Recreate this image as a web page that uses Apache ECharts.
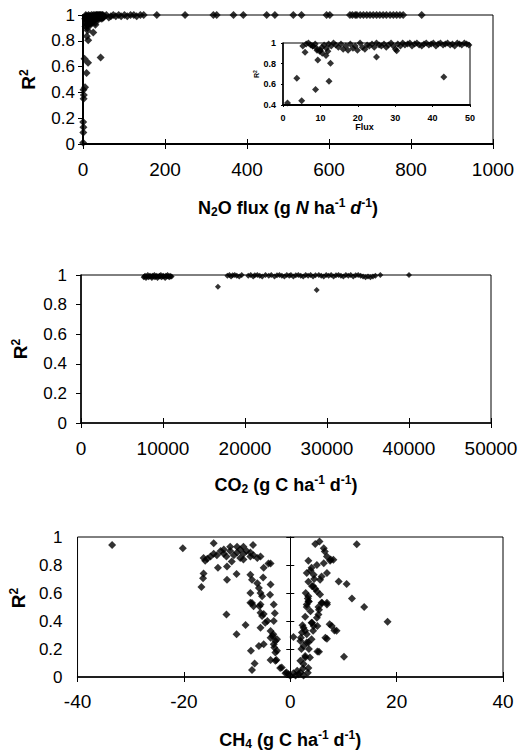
<!DOCTYPE html>
<html><head><meta charset="utf-8">
<script src="https://cdn.jsdelivr.net/npm/echarts@6/dist/echarts.min.js"></script>
<style>html,body{margin:0;padding:0;background:#fff}#c{width:522px;height:751px}</style>
</head><body><div id="c"></div>
<script>
// ---------- tick values ----------
const n2oXTicks = [0, 200, 400, 600, 800, 1000];
const insetXTicks = [0, 10, 20, 30, 40, 50];
const insetYTicks = [0.4, 0.6, 0.8, 1];
const co2XTicks = [0, 10000, 20000, 30000, 40000, 50000];
const ch4XTicks = [-40, -20, 0, 20, 40];
const r2Ticks = [0, 0.2, 0.4, 0.6, 0.8, 1];

// ---------- N2O ----------
const n2oFlux = [
  0.3, 0.8, 1.0, 0.5, 1.5, 2.0, 1.2, 5.0, 8.7, 12.3, 3.7, 43, 9.3, 12.7, 25, 5.9, 10.5, 11.5, 12, 10, 9, 30.4, 7.9,
  5.3, 6.2, 6.8, 7.4, 8.0, 8.6, 9.1, 9.8, 10.4, 11.0, 11.6, 12.2, 12.9, 13.5, 14.1, 14.8, 15.5, 16.1, 16.8, 17.4,
  18.0, 18.7, 19.3, 19.9, 20.6, 21.2, 21.9, 22.5, 23.1, 23.8, 24.4, 25.0, 25.7, 26.3, 27.0, 27.6, 28.2, 28.9, 29.5,
  30.1, 30.7, 31.4, 32.0, 32.6, 33.3, 33.9, 34.5, 35.2, 35.8, 36.4, 37.1, 37.7, 38.3, 39.0, 39.6, 40.2, 40.9, 41.5,
  42.1, 42.8, 43.4, 44.0, 44.7, 45.3, 45.9, 46.6, 47.2, 47.8, 48.5, 49.1, 49.7,
  52, 57, 63, 68, 74, 80, 87, 93, 101, 108, 116, 124, 131, 140, 148,
  180, 249, 318, 326, 367, 391, 448, 468, 513, 533, 594, 602, 651, 657, 664, 668, 676, 684, 692, 700, 708, 716,
  724, 732, 740, 749, 757, 765, 773, 781, 826
];
const n2oR2 = [
  0.01, 0.09, 0.13, 0.17, 0.35, 0.38, 0.42, 0.44, 0.55, 0.63, 0.66, 0.67, 0.835, 0.805, 0.865, 0.91, 0.9, 0.88, 0.92, 0.93, 0.95, 0.925, 0.97,
  0.97, 0.99, 1.0, 0.98, 0.97, 0.99, 0.93, 0.92, 0.96, 0.98, 0.95, 0.99, 0.97, 1.0, 0.98, 0.96, 0.99, 0.94, 0.97, 0.93,
  0.99, 0.95, 0.97, 0.93, 1.0, 0.96, 0.94, 0.98, 0.97, 0.99, 0.96, 1.0, 0.98, 0.97, 0.99, 0.96, 0.98, 1.0, 0.97,
  0.94, 0.99, 0.97, 1.0, 0.98, 0.99, 1.0, 0.97, 0.99, 1.0, 0.98, 0.97, 0.99, 1.0, 0.98, 0.99, 1.0, 0.97, 0.99,
  1.0, 0.98, 0.99, 1.0, 0.98, 0.99, 0.97, 1.0, 0.99, 0.98, 1.0, 0.99, 0.98,
  0.99, 1.0, 0.98, 0.99, 1.0, 0.99, 1.0, 0.99, 1.0, 0.99, 1.0, 1.0, 0.99, 1.0, 1.0,
  1.0, 1.0, 1.0, 1.0, 1.0, 1.0, 1.0, 1.0, 1.0, 1.0, 1.0, 1.0, 1.0, 1.0, 1.0, 1.0, 1.0, 1.0, 1.0, 1.0, 1.0, 1.0,
  1.0, 1.0, 1.0, 1.0, 1.0, 1.0, 1.0, 1.0, 1.0
];

// ---------- CO2 ----------
const co2Flux = [
  7650, 7720, 7810, 7930, 8010, 8150, 8230, 8360, 8420, 8550, 8640, 8710, 8830, 8950, 9020, 9110, 9240, 9330,
  9410, 9560, 9620, 9740, 9810, 9950, 10030, 10120, 10260, 10340, 10480, 10560, 10650, 10770, 10860, 10940, 11050,
  16700,
  17850, 18100, 18300, 18500, 18750, 19000, 19300, 19600, 20400, 20700, 21000, 21200, 21500, 21800, 22100, 22500,
  22900, 23200, 23600, 23900, 24200, 24500, 24800, 25100, 25400, 25600, 25900, 26200, 26500, 26800, 27100, 27400,
  27700, 28000, 28300, 28600, 28740, 29000, 29300, 29600, 29900, 30200, 30500, 30800, 31100, 31400, 31700, 32000,
  32300, 32600, 32900, 33200, 33500, 33800, 34100, 34400, 34700, 35000, 35300, 35600, 35900, 36500, 40000
];
const co2R2 = [
  0.985, 0.99, 0.995, 0.98, 0.99, 1.0, 0.985, 0.99, 0.995, 0.99, 0.98, 0.995, 0.99, 1.0, 0.985, 0.99, 0.995, 0.98,
  0.99, 0.995, 0.99, 1.0, 0.985, 0.99, 0.995, 0.99, 0.98, 0.995, 0.99, 1.0, 0.99, 0.985, 0.995, 0.99, 0.99,
  0.921,
  0.995, 1.0, 0.99, 0.998, 1.0, 0.995, 0.99, 1.0, 0.995, 1.0, 0.99, 0.998, 1.0, 0.995, 0.99, 1.0,
  0.995, 1.0, 0.99, 0.998, 1.0, 0.995, 0.99, 1.0, 0.995, 1.0, 0.99, 0.998, 1.0, 0.995, 0.99, 1.0,
  0.995, 1.0, 0.99, 0.998, 0.899, 1.0, 0.995, 0.99, 1.0, 0.995, 1.0, 0.99, 0.998, 1.0, 0.995, 0.99,
  1.0, 0.995, 1.0, 0.99, 0.998, 1.0, 0.995, 0.99, 0.985, 0.99, 0.985, 0.99, 0.995, 1.0, 1.0
];

// ---------- CH4 ----------
const ch4Flux = [
  -33.5, -20.2, -14.4, -7.0,
  -16.3, -15.0, -13.8, -12.5, -12.5, -11.3, -11.3, -10.0, -10.0, -9.4, -8.8, -8.8, -8.2, -7.5, -7.5, -6.9, -14.4,
  -13.1, -12.0, -10.6, -9.4, -8.8, -6.2, -5.6, -15.6, -16.0,
  -5.0, -4.1, -3.7, -13.6, -11.9, -11.0, -10.1, -11.9, -7.5, -7.2, -5.1, -6.2, -3.7, -16.3, -16.4, -16.7, -5.9,
  -5.6, -3.8, -7.5, -5.3, -7.5, -6.9, -3.1, -5.6, -5.6, -5.3, -12.0, -4.3, -3.1, -8.4, -5.6, -3.7, -3.2, -10.1,
  -3.7, -2.5, -5.0, -5.9, -3.1, -3.0, -2.5, -7.4, -3.7, -2.6, -6.7, -7.2, -1.9, -0.9,
  -7.2, -4.7, -5.0, -2.9, -5.8, -3.3, -2.8, -2.8, -2.8, -1.6, -0.7, 0, -0.3,
  5.5, 12.5, 6.3, 6.5, 6.9, 8.1, 7.6, 6.3, 3.4, 3.1, 4.4, 5.9, 6.9, 9.1, 10.6, 5.6, 4.1, 4.7, 5.0, 5.6, 5.9, 6.9,
  3.4, 3.1, 3.4, 3.1, 11.6, 13.9, 5.3, 5.0, 4.1, 18.3, 7.4, 8.3, 4.4, 2.5, 2.2, 3.1, 0.6, 6.6, 1.9, 2.5, 3.4, 5.1,
  10.1, 2.8, 1.9, 3.4, 2.5, 1.3, 0.6, 1.9, 2.3, 3.1, 4.0, 4.3, 4.0, 5.1, 5.4, 3.5, 6.0, 6.9, 7.8, 8.7, 6.9, 5.4,
  4.7, 7.5, 5.0, 4.0, 3.8, 4.5, 3.4, 2.9, 3.3, 4.3, 5.3, 3.8, 2.8, 2.8, 2.0, 3.5, 2.1, 2.8, 3.7, 2.4, 3.3, 1.0,
  2.5, 1.6
];
const ch4R2 = [
  0.943, 0.92, 0.955, 0.943,
  0.85, 0.86, 0.87, 0.88, 0.91, 0.90, 0.93, 0.93, 0.89, 0.91, 0.93, 0.88, 0.9, 0.86, 0.89, 0.87, 0.88,
  0.9, 0.86, 0.87, 0.85, 0.84, 0.85, 0.86, 0.845, 0.83,
  0.78, 0.81, 0.81, 0.78, 0.79, 0.825, 0.735, 0.695, 0.73, 0.695, 0.71, 0.67, 0.66, 0.74, 0.706, 0.643, 0.636,
  0.60, 0.588, 0.60, 0.577, 0.53, 0.506, 0.518, 0.518, 0.459, 0.435, 0.447, 0.40, 0.40, 0.371, 0.352, 0.329, 0.305, 0.305,
  0.281, 0.269, 0.234, 0.222, 0.234, 0.21, 0.187, 0.187, 0.121, 0.121, 0.097, 0.05, 0.064, 0.026,
  0.529, 0.388, 0.45, 0.455, 0.505, 0.293, 0.258, 0.175, 0.116, 0.068, 0.032, 0.009, 0.02,
  0.967, 0.948, 0.92, 0.897, 0.86, 0.837, 0.84, 0.813, 0.83, 0.742, 0.73, 0.718, 0.742, 0.683, 0.664, 0.695, 0.648, 0.63, 0.612, 0.589, 0.53, 0.53,
  0.577, 0.518, 0.541, 0.5, 0.56, 0.5, 0.447, 0.423, 0.388, 0.395, 0.376, 0.333, 0.364, 0.352, 0.317, 0.305, 0.286, 0.281, 0.258, 0.222, 0.246, 0.182,
  0.144, 0.139, 0.116, 0.064, 0.092, 0.045, 0.026, 0.033, 0.369, 0.246, 0.27, 0.33, 0.388, 0.364, 0.48, 0.54, 0.529, 0.517, 0.364, 0.33, 0.274, 0.18,
  0.95, 0.83, 0.80, 0.78, 0.76, 0.70, 0.68, 0.6, 0.56, 0.65, 0.5, 0.47, 0.43, 0.33, 0.28, 0.2, 0.2, 0.15, 0.14, 0.06, 0.03, 0.01,
  0.01, 0.02
];

// ---------- helpers ----------
const FONT = '"Liberation Sans", Arial, sans-serif';
function zip(xs, ys) { return xs.map((x, i) => [x, ys[i]]); }
function rng(t) { return { min: t[0], max: t[t.length - 1], interval: t[1] - t[0] }; }
function fmt(v) { return String(Math.round(v * 1000) / 1000); }
function richTitle(size) {
  return {
    b: { fontSize: size, fontWeight: 'bold', fontFamily: FONT, color: '#000', lineHeight: 21 },
    i: { fontSize: size, fontWeight: 'bold', fontStyle: 'italic', fontFamily: FONT, color: '#000', lineHeight: 21 },
    sub: { fontSize: Math.round(size * 0.65), fontWeight: 'bold', fontFamily: FONT, color: '#000', verticalAlign: 'bottom', lineHeight: 12 },
    sup: { fontSize: Math.round(size * 0.65), fontWeight: 'bold', fontFamily: FONT, color: '#000', verticalAlign: 'top', lineHeight: 12 }
  };
}
const black = '#000';
const noLine = { show: false };
function xLab(size, margin) { return { fontSize: size, color: black, fontFamily: FONT, margin: margin, formatter: fmt }; }
function yLab(size, margin) { return { fontSize: size, color: black, fontFamily: FONT, margin: margin, formatter: fmt }; }

const n2oData = zip(n2oFlux, n2oR2);
const insetData = n2oData.filter(p => p[0] <= insetXTicks[insetXTicks.length - 1] && p[1] >= insetYTicks[0]);

const option = {
  animation: false,
  backgroundColor: '#fff',
  grid: [
    { left: 83, top: 15, width: 410, height: 129, show: true, borderColor: black, borderWidth: 1 },
    { left: 283, top: 43, width: 187, height: 62, show: true, borderColor: black, borderWidth: 1, backgroundColor: '#fff' },
    { left: 81, top: 275, width: 410, height: 148, show: true, borderColor: black, borderWidth: 1 },
    { left: 77, top: 537, width: 426, height: 141, show: true, borderColor: black, borderWidth: 1 }
  ],
  xAxis: [
    // 0: N2O main
    Object.assign({ type: 'value', gridIndex: 0, position: 'bottom',
      axisLine: { onZero: false, lineStyle: { color: black, width: 2 } },
      axisTick: { length: 5, lineStyle: { color: black } },
      axisLabel: xLab(19, 16), splitLine: noLine,
      name: '{b|N}{sub|2}{b|O flux (g }{i|N}{b| ha}{sup|-1}{b| }{i|d}{sup|-1}{b|)}',
      nameLocation: 'middle', nameGap: 53, nameTextStyle: { rich: richTitle(18) } }, rng(n2oXTicks)),
    // 1: N2O main inside ticks
    Object.assign({ type: 'value', gridIndex: 0, position: 'bottom',
      axisLine: { show: false, onZero: false }, axisTick: { inside: true, length: 5, lineStyle: { color: black } },
      axisLabel: { show: false }, splitLine: noLine }, rng(n2oXTicks)),
    // 2: inset
    Object.assign({ type: 'value', gridIndex: 1, position: 'bottom',
      axisLine: { onZero: false, lineStyle: { color: black, width: 2 } },
      axisTick: { length: 2, lineStyle: { color: black } },
      axisLabel: { fontSize: 9, fontWeight: 'bold', color: black, fontFamily: FONT, margin: 8, formatter: fmt }, splitLine: noLine,
      name: 'Flux', nameLocation: 'middle', nameGap: 16,
      nameTextStyle: { fontSize: 9, fontWeight: 'bold', color: black, fontFamily: FONT, padding: [0, 24, 0, 0] } }, rng(insetXTicks)),
    // 3: CO2
    Object.assign({ type: 'value', gridIndex: 2, position: 'bottom',
      axisLine: { onZero: false, lineStyle: { color: black, width: 1.5 } },
      axisTick: { length: 5, lineStyle: { color: black } },
      axisLabel: xLab(19, 16), splitLine: noLine,
      name: '{b|CO}{sub|2}{b| (g C ha}{sup|-1}{b| d}{sup|-1}{b|)}',
      nameLocation: 'middle', nameGap: 51, nameTextStyle: { rich: richTitle(18) } }, rng(co2XTicks)),
    // 4: CO2 inside ticks
    Object.assign({ type: 'value', gridIndex: 2, position: 'bottom',
      axisLine: { show: false, onZero: false }, axisTick: { inside: true, length: 5, lineStyle: { color: black } },
      axisLabel: { show: false }, splitLine: noLine }, rng(co2XTicks)),
    // 5: CH4
    Object.assign({ type: 'value', gridIndex: 3, position: 'bottom',
      axisLine: { onZero: false, lineStyle: { color: black, width: 1.5 } },
      axisTick: { length: 5, lineStyle: { color: black } },
      axisLabel: xLab(19, 15), splitLine: noLine,
      name: '{b|CH}{sub|4}{b| (g C ha}{sup|-1}{b| d}{sup|-1}{b|)}',
      nameLocation: 'middle', nameGap: 52, nameTextStyle: { rich: richTitle(18) } }, rng(ch4XTicks)),
    // 6: CH4 inside ticks
    Object.assign({ type: 'value', gridIndex: 3, position: 'bottom',
      axisLine: { show: false, onZero: false }, axisTick: { inside: true, length: 5, lineStyle: { color: black } },
      axisLabel: { show: false }, splitLine: noLine }, rng(ch4XTicks))
  ],
  yAxis: [
    // 0: N2O main
    Object.assign({ type: 'value', gridIndex: 0, position: 'left',
      axisLine: { show: true, onZero: false, lineStyle: { color: black, width: 2 } },
      axisTick: { show: true, length: 5, lineStyle: { color: black } },
      axisLabel: yLab(17, 8), splitLine: noLine,
      name: '{b|R}{sup|2}', nameLocation: 'middle', nameRotate: 90, nameGap: 44,
      nameTextStyle: { rich: richTitle(19) } }, rng(r2Ticks)),
    // 1: inset
    Object.assign({ type: 'value', gridIndex: 1, position: 'left',
      axisLine: { show: true, onZero: false, lineStyle: { color: black, width: 1.5 } },
      axisTick: { show: true, length: 2, lineStyle: { color: black } },
      axisLabel: { fontSize: 9, fontWeight: 'bold', color: black, fontFamily: FONT, margin: 7, formatter: fmt }, splitLine: noLine,
      name: '{b|R}{sup|2}', nameLocation: 'middle', nameRotate: 90, nameGap: 1,
      nameTextStyle: { rich: {
        b: { fontSize: 7, fontWeight: 'bold', fontFamily: FONT, color: black, lineHeight: 8 },
        sup: { fontSize: 5, fontWeight: 'bold', fontFamily: FONT, color: black, verticalAlign: 'top', lineHeight: 5 } } } }, rng(insetYTicks)),
    // 2: CO2
    Object.assign({ type: 'value', gridIndex: 2, position: 'left',
      axisLine: { show: true, onZero: false, lineStyle: { color: black, width: 1.5 } },
      axisTick: { show: true, length: 5, lineStyle: { color: black } },
      axisLabel: yLab(17, 14), splitLine: noLine,
      name: '{b|R}{sup|2}', nameLocation: 'middle', nameRotate: 90, nameGap: 50,
      nameTextStyle: { rich: richTitle(19) } }, rng(r2Ticks)),
    // 3: CH4 labels at left
    Object.assign({ type: 'value', gridIndex: 3, position: 'left',
      axisLine: { show: false, onZero: false }, axisTick: { show: false },
      axisLabel: yLab(17, 15), splitLine: noLine,
      name: '{b|R}{sup|2}', nameLocation: 'middle', nameRotate: 90, nameGap: 48,
      nameTextStyle: { rich: richTitle(19), padding: [0, 0, 0, 18] } }, rng(r2Ticks)),
    // 4: CH4 axis on x = 0
    Object.assign({ type: 'value', gridIndex: 3, position: 'left',
      axisLine: { show: true, onZero: true, onZeroAxisIndex: 5, lineStyle: { color: black, width: 1 } },
      axisTick: { show: true, length: 4, lineStyle: { color: black } },
      axisLabel: { show: false }, splitLine: noLine }, rng(r2Ticks)),
    // 5: CH4 inside ticks on x = 0
    Object.assign({ type: 'value', gridIndex: 3, position: 'left',
      axisLine: { show: false, onZero: true, onZeroAxisIndex: 5 },
      axisTick: { show: true, inside: true, length: 4, lineStyle: { color: black } },
      axisLabel: { show: false }, splitLine: noLine }, rng(r2Ticks))
  ],
  series: [
    { type: 'scatter', xAxisIndex: 0, yAxisIndex: 0, symbol: 'diamond', symbolSize: 8,
      itemStyle: { color: black }, data: n2oData, clip: false },
    { type: 'scatter', xAxisIndex: 2, yAxisIndex: 1, symbol: 'diamond', symbolSize: 7,
      itemStyle: { color: black }, data: insetData, clip: false, z: 5 },
    { type: 'scatter', xAxisIndex: 3, yAxisIndex: 2, symbol: 'diamond', symbolSize: 6,
      itemStyle: { color: black }, data: zip(co2Flux, co2R2), clip: false },
    { type: 'scatter', xAxisIndex: 5, yAxisIndex: 3, symbol: 'diamond', symbolSize: 8,
      itemStyle: { color: black }, data: zip(ch4Flux, ch4R2), clip: false }
  ]
};

const chart = echarts.init(document.getElementById('c'), null, { renderer: 'svg' });
chart.setOption(option);
</script>
</body></html>
